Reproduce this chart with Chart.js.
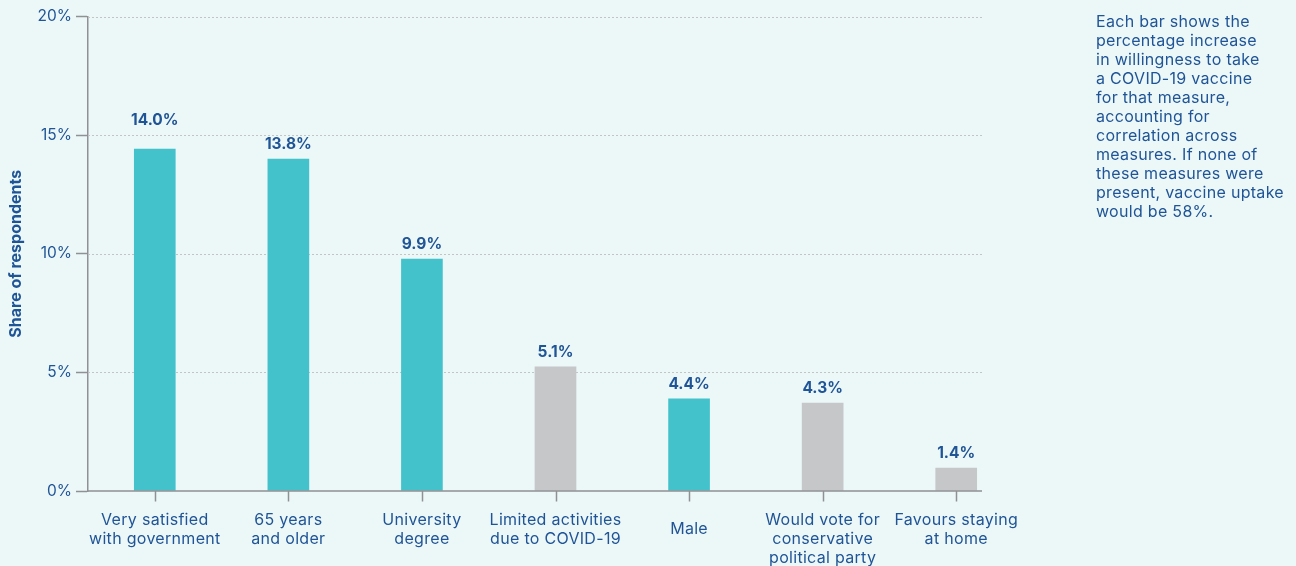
<!DOCTYPE html>
<html>
<head>
<meta charset="utf-8">
<script src="https://cdn.jsdelivr.net/npm/chart.js@4"></script>
<style>
  html, body { margin:0; padding:0; background:#ecf7f8; }
  #wrap { position:relative; width:1296px; height:566px; }
  canvas { position:absolute; left:0; top:0; }
  #note { position:absolute; left:1096px; top:12px; font-family: Inter, sans-serif; font-size:16px; letter-spacing:0.3px; line-height:19px; color:#1f5496; white-space:nowrap; }
</style>
</head>
<body>
<div id="wrap">
  <canvas id="c" width="1296" height="566"></canvas>
  <div id="note">Each bar shows the<br>percentage increase<br>in willingness to take<br>a COVID-19 vaccine<br>for that measure,<br>accounting for<br>correlation across<br>measures. If none of<br>these measures were<br>present, vaccine uptake<br>would be 58%.</div>
</div>
<script>
const categories = [
  ["Very satisfied", "with government"],
  ["65 years", "and older"],
  ["University", "degree"],
  ["Limited activities", "due to COVID-19"],
  ["Male"],
  ["Would vote for", "conservative", "political party"],
  ["Favours staying", "at home"]
];
const barValues = [14.41, 13.99, 9.78, 5.23, 3.88, 3.71, 0.97];
const valueLabels = ["14.0%", "13.8%", "9.9%", "5.1%", "4.4%", "4.3%", "1.4%"];
const significant = [true, true, true, false, true, false, false];
const yTicks = [0, 5, 10, 15, 20];

const TEAL = '#44c2cc', GREY = '#c6c7c9', BLUE = '#1f5496', AXIS = '#8f9193';
const FONT = 'Inter, sans-serif';
const FS = 16;
const GRID_END = 982;

const customDraw = {
  id: 'customDraw',
  beforeDatasetsDraw(chart) {
    const ctx = chart.ctx, y = chart.scales.y, a = chart.chartArea;
    ctx.save();
    ctx.strokeStyle = '#c2c4c5';
    ctx.lineWidth = 1;
    ctx.setLineDash([2, 2]);
    yTicks.forEach(v => {
      if (v === 0) return;
      const py = Math.round(y.getPixelForValue(v)) + 0.5;
      ctx.beginPath(); ctx.moveTo(a.left, py); ctx.lineTo(GRID_END, py); ctx.stroke();
    });
    ctx.restore();
  },
  afterDatasetsDraw(chart) {
    const ctx = chart.ctx, y = chart.scales.y, x = chart.scales.x, a = chart.chartArea;
    ctx.save();
    const by = y.getPixelForValue(0);
    ctx.strokeStyle = AXIS; ctx.lineWidth = 1.5;
    ctx.beginPath(); ctx.moveTo(a.left, by); ctx.lineTo(GRID_END, by); ctx.stroke();
    categories.forEach((c, i) => {
      const px = Math.round(x.getPixelForValue(i)) + 0.5;
      ctx.beginPath(); ctx.moveTo(px, by); ctx.lineTo(px, by + 10.5); ctx.stroke();
    });
    ctx.fillStyle = BLUE;
    ctx.font = FS + 'px ' + FONT;
    ctx.letterSpacing = '0.3px';
    ctx.textAlign = 'center'; ctx.textBaseline = 'middle';
    categories.forEach((lines, i) => {
      const px = x.getPixelForValue(i);
      const start = lines.length === 1 ? by + 38.5 : by + 29;
      lines.forEach((t, j) => ctx.fillText(t, px, start + j * 19));
    });
    ctx.letterSpacing = '0px';
    ctx.font = 'bold 15.5px ' + FONT;
    const meta = chart.getDatasetMeta(0);
    meta.data.forEach((el, i) => {
      let ly = el.y - 14.5;
      yTicks.forEach(v => {
        const gy = y.getPixelForValue(v);
        if (v > 0 && Math.abs(ly - gy) < 8) ly = gy - 14.5;
      });
      ctx.fillText(valueLabels[i], el.x, ly);
    });
    ctx.restore();
  }
};

new Chart(document.getElementById('c'), {
  type: 'bar',
  data: {
    labels: categories.map(c => c.join(' ')),
    datasets: [{
      data: barValues,
      backgroundColor: significant.map(s => s ? TEAL : GREY),
      borderWidth: 0,
      barThickness: 41
    }]
  },
  options: {
    responsive: false,
    animation: false,
    devicePixelRatio: 1,
    layout: { padding: { top: 16.5, right: 273, left: 0, bottom: 0 } },
    plugins: { legend: { display: false }, tooltip: { enabled: false } },
    scales: {
      x: {
        offset: true,
        grid: { display: false },
        border: { display: false },
        ticks: { display: false },
        afterFit(s) { s.height = 75; }
      },
      y: {
        min: 0, max: 20,
        afterFit(s) { s.width = 88; },
        afterBuildTicks(s) { s.ticks = yTicks.map(v => ({ value: v })); },
        grid: { drawOnChartArea: false, tickLength: 12, tickColor: AXIS, tickWidth: 1.5 },
        border: { display: true, color: AXIS, width: 1.5 },
        ticks: {
          color: BLUE, padding: 4,
          font: { family: FONT, size: 15.5 },
          callback: v => v + '%'
        },
        title: {
          display: true, text: 'Share of respondents', color: BLUE,
          font: { family: FONT, size: 16, weight: 'bold' },
          padding: { top: 6.5, bottom: 0 }
        }
      }
    }
  },
  plugins: [customDraw]
});
</script>
</body>
</html>
